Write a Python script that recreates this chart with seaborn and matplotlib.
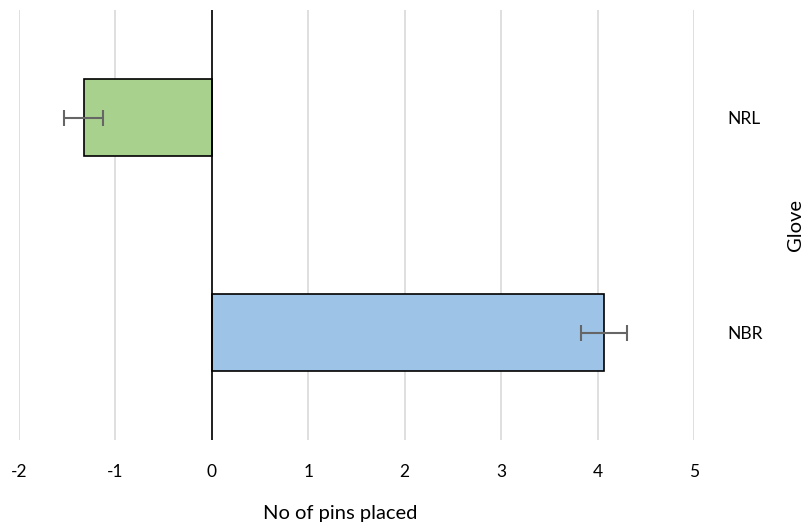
import pandas as pd
import numpy as np
import seaborn as sns
import matplotlib.pyplot as plt

# Data
gloves = ['NRL', 'NBR']
pins_placed = [-1.33, 4.07]
pins_err = [0.20, 0.24]
bar_colors = ['#A9D18E', '#9DC3E6']
x_ticks = [-2, -1, 0, 1, 2, 3, 4, 5]

df = pd.DataFrame({'Glove': gloves, 'Pins': pins_placed, 'Err': pins_err})

sns.set_theme(style='white')
plt.rcParams['font.family'] = ['Lato', 'DejaVu Sans']

fig = plt.figure(figsize=(8.08, 5.26), dpi=100)
ax = fig.add_axes([19 / 808, 86 / 526, 675 / 808, 430 / 526])

sns.barplot(data=df, x='Pins', y='Glove', hue='Glove', palette=bar_colors,
            order=gloves, orient='h', width=0.355, edgecolor='black',
            linewidth=1.2, saturation=1, legend=False, ax=ax, zorder=3)

ax.errorbar(df['Pins'], np.arange(len(gloves)), xerr=df['Err'], fmt='none',
            ecolor='#666666', elinewidth=1.5, capsize=6, capthick=1.5, zorder=4)

ax.set_xlim(-2, 5)
ax.set_ylim(1.5, -0.5)
ax.set_xticks(x_ticks)
ax.set_xticklabels([str(t) for t in x_ticks])
ax.grid(axis='x', color='#D9D9D9', linewidth=1.2, zorder=0)
ax.grid(axis='y', visible=False)
ax.axvline(0, color='black', linewidth=1.2, zorder=5)

for s in ax.spines.values():
    s.set_visible(False)

ax.yaxis.tick_right()
ax.yaxis.set_label_position('right')
ax.tick_params(axis='y', length=0, pad=24, labelsize=12.5, colors='black')
ax.tick_params(axis='x', length=0, pad=17, labelsize=12.5, colors='black')

ax.set_xlabel('No of pins placed', fontsize=14.5, color='black', va='center', ha='center')
ax.xaxis.set_label_coords((340 - 19) / 675, -73 / 430)
ax.set_ylabel('Glove', fontsize=14.5, color='black', rotation=90, va='center', ha='center')
ax.yaxis.set_label_coords((795 - 19) / 675, 0.5)

fig.savefig('out.png', dpi=100)
